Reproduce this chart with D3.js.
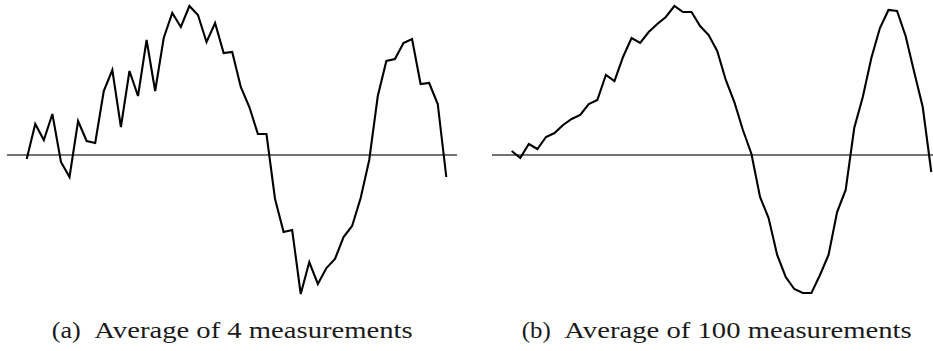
<!DOCTYPE html>
<html>
<head>
<meta charset="utf-8">
<script src="https://cdn.jsdelivr.net/npm/d3@7/dist/d3.min.js"></script>
<style>
  html, body { margin: 0; padding: 0; background: #fff; }
  svg { display: block; }
  .cap { font-family: "Liberation Serif", Tinos, "Times New Roman", Times, serif; font-size: 23.5px; fill: #1a1a1a; }
</style>
</head>
<body>
<svg id="chart" width="933" height="351"></svg>
<script>
// Averaged waveforms, one value per sample (arbitrary units, 0 = baseline)
const samples = d3.range(1, 51);

const avg4 = [
  -0.04, 0.31, 0.15, 0.41, -0.07, -0.22, 0.34, 0.14, 0.12, 0.64,
   0.85, 0.28, 0.84, 0.59, 1.15, 0.64, 1.17, 1.42, 1.28, 1.49,
   1.40, 1.13, 1.32, 1.02, 1.03, 0.68, 0.48, 0.21, 0.21, -0.44,
  -0.77, -0.75, -1.39, -1.07, -1.29, -1.13, -1.04, -0.82, -0.71, -0.43,
  -0.05, 0.59, 0.94, 0.96, 1.12, 1.16, 0.71, 0.72, 0.51, -0.22
];

const avg100 = [
   0.04, -0.03, 0.11, 0.06, 0.18, 0.22, 0.30, 0.36, 0.40, 0.51,
   0.55, 0.80, 0.74, 0.98, 1.17, 1.12, 1.23, 1.31, 1.38, 1.49,
   1.43, 1.43, 1.29, 1.20, 1.04, 0.75, 0.53, 0.25, 0.01, -0.42,
  -0.63, -1.00, -1.22, -1.34, -1.38, -1.38, -1.20, -1.00, -0.57, -0.35,
   0.27, 0.58, 0.97, 1.27, 1.45, 1.44, 1.19, 0.83, 0.48, -0.17
];

const captions = ["(a)", "(b)"];
const captionText = ["Average of 4 measurements", "Average of 100 measurements"];

const svg = d3.select("#chart");

const panels = [
  { values: avg4,   left: 0 },
  { values: avg100, left: 485 }
];

const y = d3.scaleLinear().domain([-1.5, 1.5]).range([305, 5]);

panels.forEach(p => {
  const x = d3.scaleLinear()
    .domain([1, 50])
    .range([p.left + 26.7, p.left + 446.3]);

  const g = svg.append("g");

  // baseline
  g.append("line")
    .attr("x1", x(1) - 19.7)
    .attr("x2", x(50) + 10.7)
    .attr("y1", y(0))
    .attr("y2", y(0))
    .attr("stroke", "#444")
    .attr("stroke-width", 1.3);

  const line = d3.line()
    .x((d, i) => x(samples[i]))
    .y(d => y(d));

  g.append("path")
    .datum(p.values)
    .attr("d", line)
    .attr("fill", "none")
    .attr("stroke", "#000")
    .attr("stroke-width", 2.1)
    .attr("stroke-linejoin", "miter");
});

// sub-figure captions: [label start, text start, text end]
[[51.7, 94.3, 412.7], [521.7, 564.3, 911.7]].forEach((span, i) => {
  svg.append("text")
    .attr("class", "cap")
    .attr("x", span[0])
    .attr("y", 338)
    .attr("textLength", 29)
    .attr("lengthAdjust", "spacingAndGlyphs")
    .text(captions[i]);
  svg.append("text")
    .attr("class", "cap")
    .attr("x", span[1])
    .attr("y", 338)
    .attr("textLength", span[2] - span[1])
    .attr("lengthAdjust", "spacingAndGlyphs")
    .text(captionText[i]);
});
</script>
</body>
</html>
